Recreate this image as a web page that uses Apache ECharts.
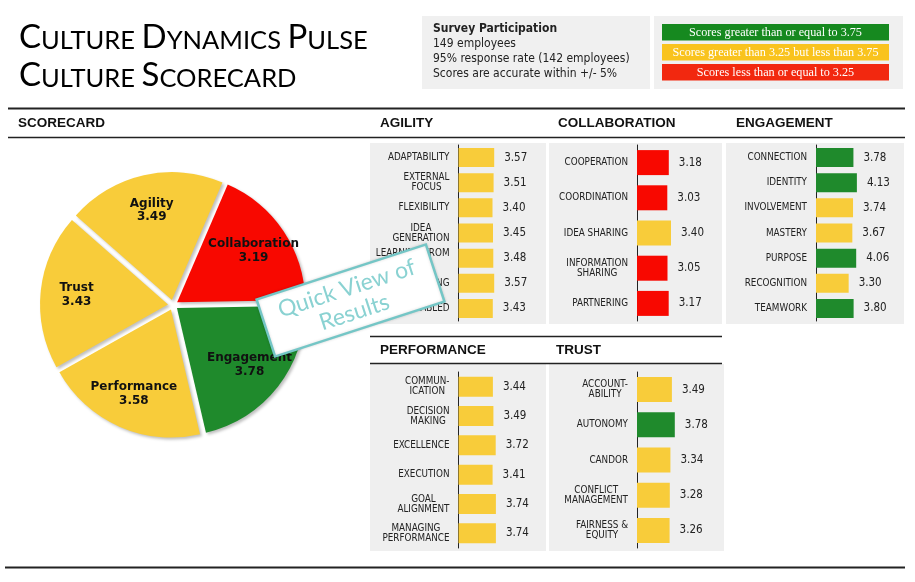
<!DOCTYPE html>
<html><head><meta charset="utf-8">
<script src="https://cdn.jsdelivr.net/npm/echarts@6/dist/echarts.min.js"></script>
<style>html,body{margin:0;padding:0;background:#fff}#c{width:915px;height:582px}</style>
</head><body><div id="c"></div>
<script>
// ---------- data ----------
const pieNames  = ['Collaboration', 'Agility', 'Trust', 'Performance', 'Engagement'];
const pieValues = [3.19, 3.49, 3.43, 3.58, 3.78];

const agilityCats = ['ADAPTABILITY', 'EXTERNAL\nFOCUS', 'FLEXIBILITY', 'IDEA\nGENERATION', 'LEARNING FROM\nFAILURE', 'RISK TAKING', 'ENABLED'];
const agilityVals = [3.57, 3.51, 3.40, 3.45, 3.48, 3.57, 3.43];

const collabCats = ['COOPERATION', 'COORDINATION', 'IDEA SHARING', 'INFORMATION\nSHARING', 'PARTNERING'];
const collabVals = [3.18, 3.03, 3.40, 3.05, 3.17];

const engageCats = ['CONNECTION', 'IDENTITY', 'INVOLVEMENT', 'MASTERY', 'PURPOSE', 'RECOGNITION', 'TEAMWORK'];
const engageVals = [3.78, 4.13, 3.74, 3.67, 4.06, 3.30, 3.80];

const perfCats = ['COMMUN-\nICATION', 'DECISION\nMAKING', 'EXCELLENCE', 'EXECUTION', 'GOAL\nALIGNMENT', 'MANAGING\nPERFORMANCE'];
const perfVals = [3.44, 3.49, 3.72, 3.41, 3.74, 3.74];

const trustCats = ['ACCOUNT-\nABILITY', 'AUTONOMY', 'CANDOR', 'CONFLICT\nMANAGEMENT', 'FAIRNESS &\nEQUITY'];
const trustVals = [3.49, 3.78, 3.34, 3.28, 3.26];

const sectionTitles = ['SCORECARD', 'AGILITY', 'COLLABORATION', 'ENGAGEMENT', 'PERFORMANCE', 'TRUST'];
const surveyLines = ['Survey Participation', '149 employees', '95% response rate (142 employees)', 'Scores are accurate within +/- 5%'];
const legendTexts = ['Scores greater than or equal to 3.75', 'Scores greater than 3.25 but less than 3.75', 'Scores less than or equal to 3.25'];
const thresholds = [3.75, 3.25];

// ---------- style ----------
const GREEN = '#1f8a2c', YELLOW = '#f8cc3a', RED = '#f80800';
const LG_GREEN = '#16891f', LG_YELLOW = '#f9c31e', LG_RED = '#f2280f';
const COND = '"DejaVu Sans Condensed","Liberation Sans Narrow","DejaVu Sans",sans-serif';
const HEAD = '"Liberation Sans",Arial,sans-serif';
function scoreColor(v) { return v >= thresholds[0] ? GREEN : (v > thresholds[1] ? YELLOW : RED); }

const panels = [
  { cats: agilityCats, vals: agilityVals, left: 458.5, top: 145, bw: 19 },
  { cats: collabCats,  vals: collabVals,  left: 637,   top: 145, bw: 25 },
  { cats: engageCats,  vals: engageVals,  left: 816,   top: 145, bw: 19 },
  { cats: perfCats,    vals: perfVals,    left: 458.5, top: 372, bw: 20 },
  { cats: trustCats,   vals: trustVals,   left: 637,   top: 372, bw: 25 }
];

const grids = [], xAxes = [], yAxes = [], series = [];
panels.forEach((p, i) => {
  grids.push({ left: p.left, top: p.top, width: 100, height: 176 });
  xAxes.push({ type: 'value', gridIndex: i, min: 0, max: 10, show: false });
  yAxes.push({
    type: 'category', gridIndex: i, inverse: true, data: p.cats,
    axisLine: { show: true, lineStyle: { color: '#222', width: 1 } },
    axisTick: { show: false }, splitLine: { show: false },
    axisLabel: {
      margin: 9, color: '#222', fontSize: 9.8, fontFamily: COND, lineHeight: 10, align: 'right',
      formatter: v => v.split('\n').map(l => '{c|' + l + '}').join('\n'),
      rich: { c: { align: 'center', fontSize: 9.8, fontFamily: COND, color: '#222', lineHeight: 10 } }
    }
  });
  series.push({
    type: 'bar', xAxisIndex: i, yAxisIndex: i, barWidth: p.bw, silent: true,
    data: p.vals.map(v => ({ value: v, itemStyle: { color: scoreColor(v) } })),
    label: { show: true, position: 'right', distance: 10, color: '#222', fontSize: 11.5, fontFamily: COND,
             formatter: q => q.value.toFixed(2) }
  });
});

const pieData = pieNames.map((n, i) => ({ name: n, value: pieValues[i], selected: true,
  itemStyle: { color: scoreColor(pieValues[i]) } }));

series.push({
  type: 'pie', center: [173, 305], radius: [0, 128], startAngle: 1, clockwise: false,
  selectedMode: 'multiple', selectedOffset: 5, silent: true,
  itemStyle: { shadowBlur: 3, shadowOffsetX: 2, shadowOffsetY: 2, shadowColor: 'rgba(0,0,0,0.25)' },
  label: { show: false }, labelLine: { show: false }, emphasis: { disabled: true },
  data: pieData
});
series.push({
  type: 'pie', center: [173, 305], radius: [50, 128], startAngle: 1, clockwise: false,
  selectedMode: 'multiple', selectedOffset: 5, silent: true, z: 3,
  itemStyle: { color: 'rgba(0,0,0,0)' },
  label: { show: true, position: 'inside', color: '#111', fontSize: 12, fontWeight: 'bold',
           fontFamily: '"DejaVu Sans",Verdana,sans-serif', lineHeight: 13.5,
           formatter: q => q.name + '\n' + q.value.toFixed(2) },
  labelLine: { show: false }, emphasis: { disabled: true },
  data: pieNames.map((n, i) => ({ name: n, value: pieValues[i], selected: true }))
});

// ---------- graphics ----------
const g = [];
function line(x1, y1, x2, y2, w) {
  g.push({ type: 'line', z: 1, shape: { x1, y1, x2, y2 }, style: { stroke: '#222', lineWidth: w } });
}
function rect(x, y, w, h, fill, z) {
  g.push({ type: 'rect', z: z || 0, shape: { x, y, width: w, height: h }, style: { fill } });
}
function text(x, y, t, st) {
  g.push({ type: 'text', z: 5, x, y, style: Object.assign({ text: t, verticalAlign: 'middle' }, st) });
}
// title (small caps)
function smallCaps(s) {
  return s.split(' ').map(w => '{b|' + w[0] + '}{s|' + w.slice(1) + '}').join('{s| }');
}
const titleRich = {
  b: { fontSize: 33, fontFamily: 'Lato,sans-serif', color: '#111', verticalAlign: 'bottom', lineHeight: 38 },
  s: { fontSize: 25.5, fontFamily: 'Lato,sans-serif', color: '#111', verticalAlign: 'bottom', lineHeight: 38 }
};
g.push({ type: 'text', z: 5, x: 19, y: 16, style: { text: smallCaps('CULTURE DYNAMICS PULSE') + '\n' + smallCaps('CULTURE SCORECARD'), rich: titleRich } });

// survey box
rect(422, 16, 228, 73, '#f0f0f0');
surveyLines.forEach((t, i) => text(433, 29 + i * 14.8, t, { fontSize: 12, fontFamily: COND,
  fontWeight: i === 0 ? 'bold' : 'normal', fill: '#222' }));
// legend box
rect(654, 16, 249, 73, '#f0f0f0');
[LG_GREEN, LG_YELLOW, LG_RED].forEach((c, i) => {
  rect(662, 24 + i * 20, 227, 16.5, c, 1);
  g.push({ type: 'text', z: 5, x: 775.5, y: 32.5 + i * 20, style: { text: legendTexts[i], align: 'center', verticalAlign: 'middle',
    fontSize: 12.2, fontFamily: '"Liberation Serif","DejaVu Serif",serif', fill: '#fff' } });
});

// rules
line(8, 108.5, 905, 108.5, 2);
line(8, 137.5, 905, 137.5, 1.5);
line(370, 336.5, 722, 336.5, 1.5);
line(370, 363.5, 722, 363.5, 1.5);
line(5, 567.5, 905, 567.5, 2);

// section headers
const headPos = [[18, 123], [380, 123], [558, 123], [736, 123], [380, 350], [556, 350]];
sectionTitles.forEach((t, i) => text(headPos[i][0], headPos[i][1], t, { fontSize: 13.5, fontWeight: 'bold', fontFamily: HEAD, fill: '#111' }));

// panel backgrounds
rect(370, 143, 176, 181, '#efefef');
rect(549, 143, 173, 181, '#efefef');
rect(726, 143, 178, 181, '#efefef');
rect(370, 364, 176, 187, '#efefef');
rect(549, 364, 175, 187, '#efefef');

// quick view stamp
g.push({
  type: 'group', x: 350.5, y: 300.5, rotation: 18 * Math.PI / 180, z: 100,
  children: [
    { type: 'rect', z: 100, shape: { x: -89, y: -30, width: 178, height: 60 },
      style: { fill: '#fff', stroke: '#74c6c6', lineWidth: 2.5, shadowBlur: 3, shadowColor: 'rgba(0,0,0,0.15)' } },
    { type: 'text', z: 101, x: 0, y: 0, style: { text: 'Quick View of\nResults', align: 'center', verticalAlign: 'middle',
      fontSize: 23, lineHeight: 25, fontFamily: 'Lato,sans-serif', fill: '#8ad2d2' } }
  ]
});

const chart = echarts.init(document.getElementById('c'), null, { renderer: 'canvas' });
chart.setOption({
  animation: false,
  backgroundColor: '#fff',
  grid: grids, xAxis: xAxes, yAxis: yAxes, series: series,
  graphic: { elements: g }
});
</script></body></html>
